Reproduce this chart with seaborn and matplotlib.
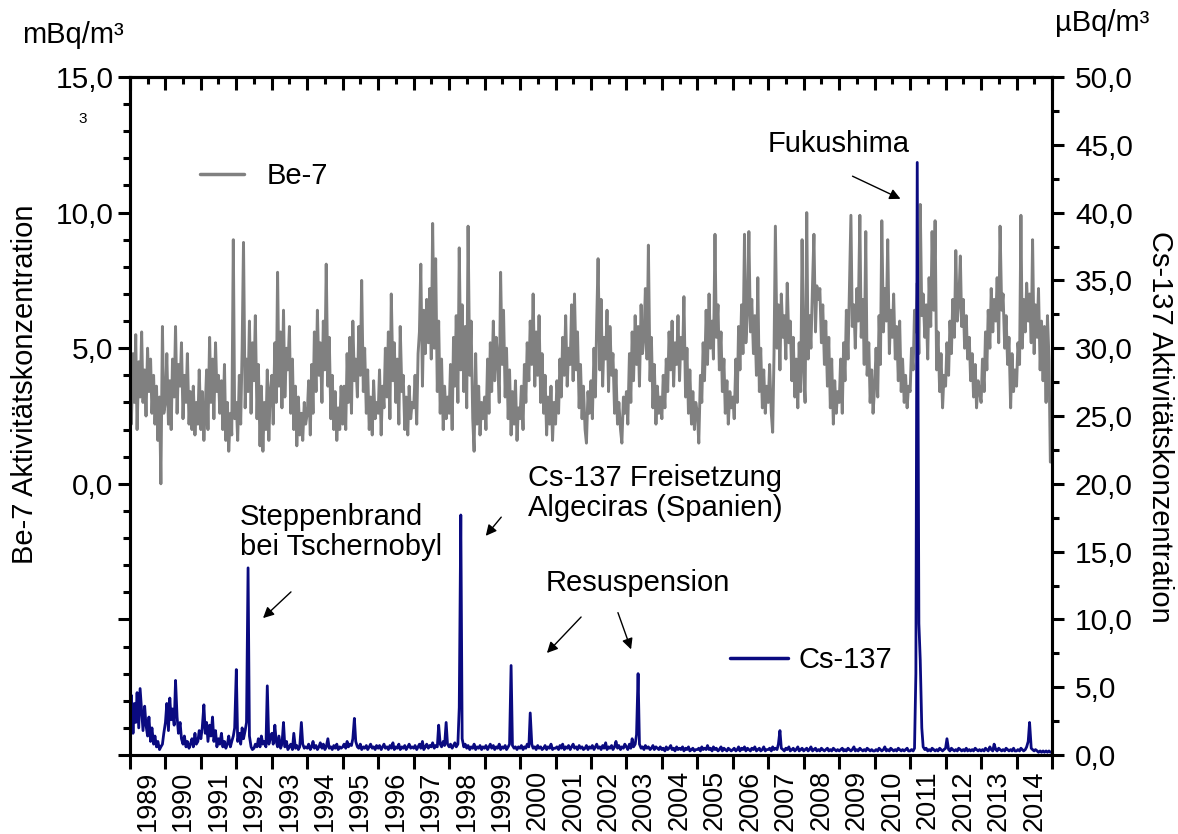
import numpy as np
import pandas as pd
import seaborn as sns
import matplotlib.pyplot as plt
import matplotlib.dates as mdates
from matplotlib.ticker import MultipleLocator, FuncFormatter
from matplotlib.lines import Line2D

# Be-7 in mBq/m3, two samples per month
be7_1989 = [6.5, 2.2, 4.8, 3.0, 5.5, 2.0, 4.5, 3.2, 5.6, 3.0, 4.2, 2.5, 5.0, 3.4, 4.6, 2.6, 4.0, 2.2, 3.6, 1.6, 3.2, 0.0, 5.8, 2.6]
be7_1990 = [3.0, 4.8, 2.2, 3.8, 2.0, 4.6, 3.2, 5.8, 2.6, 4.4, 3.6, 5.2, 2.4, 4.0, 3.0, 4.8, 2.2, 3.4, 2.0, 3.6, 1.8, 3.0, 2.2, 4.2]
be7_1991 = [2.0, 3.4, 1.6, 2.8, 4.2, 2.0, 5.4, 3.0, 4.6, 2.4, 5.2, 3.4, 4.0, 2.6, 3.8, 2.0, 4.4, 1.6, 3.0, 1.2, 2.6, 1.8, 9.0, 2.4]
be7_1992 = [3.0, 1.6, 4.0, 2.2, 5.0, 8.9, 2.8, 4.6, 3.4, 6.0, 2.6, 5.2, 3.8, 6.2, 2.4, 4.4, 1.4, 3.6, 1.2, 3.0, 2.0, 4.2, 1.6, 3.4]
be7_1993 = [4.0, 2.2, 5.2, 3.0, 7.8, 3.6, 5.6, 2.8, 6.4, 3.2, 5.0, 4.2, 5.8, 2.6, 4.6, 2.0, 3.6, 1.4, 3.2, 1.8, 2.6, 1.6, 3.0, 2.2]
be7_1994 = [2.6, 3.8, 1.8, 4.4, 2.6, 5.6, 3.4, 6.4, 4.0, 5.2, 3.0, 6.0, 4.2, 8.1, 3.6, 5.4, 2.4, 4.0, 2.0, 3.4, 1.6, 2.8, 2.0, 3.6]
be7_1995 = [2.2, 3.6, 2.0, 4.8, 3.0, 5.4, 2.6, 6.0, 3.8, 4.6, 3.2, 5.8, 4.0, 7.5, 3.4, 5.0, 2.6, 4.2, 2.0, 3.2, 1.8, 3.8, 2.4, 3.0]
be7_1996 = [2.6, 4.2, 1.8, 3.6, 2.8, 5.0, 3.2, 5.6, 2.4, 7.0, 3.8, 5.2, 3.0, 4.6, 2.2, 5.8, 3.4, 4.0, 2.0, 3.2, 1.8, 3.6, 2.4, 3.0]
be7_1997 = [2.8, 4.0, 2.2, 4.8, 5.6, 8.1, 3.6, 6.4, 4.8, 6.8, 5.2, 7.2, 4.6, 9.6, 5.0, 8.3, 3.4, 6.0, 2.6, 4.6, 2.0, 3.6, 2.4, 3.2]
be7_1998 = [2.6, 4.4, 2.0, 5.4, 3.6, 6.2, 3.0, 8.7, 4.2, 6.6, 3.4, 5.8, 2.8, 9.5, 4.0, 6.0, 2.4, 1.2, 4.8, 2.2, 3.6, 1.8, 3.0, 2.4]
be7_1999 = [3.2, 2.0, 4.6, 2.6, 5.2, 3.4, 6.0, 3.8, 5.4, 4.6, 3.0, 7.8, 4.4, 6.4, 3.2, 5.0, 2.4, 4.2, 1.8, 3.4, 2.2, 3.8, 1.6, 2.8]
be7_2000 = [2.4, 3.6, 2.0, 4.4, 3.0, 5.2, 3.8, 6.0, 4.4, 7.0, 3.6, 5.6, 4.0, 6.2, 3.0, 4.8, 2.6, 4.0, 1.8, 3.2, 2.2, 3.6, 1.6, 3.0]
be7_2001 = [2.2, 3.8, 2.6, 4.6, 3.2, 5.4, 4.0, 6.2, 3.6, 5.0, 4.4, 6.6, 3.8, 7.0, 4.2, 5.6, 2.8, 4.4, 2.4, 3.6, 2.0, 1.5, 3.4, 2.6]
be7_2002 = [3.8, 2.4, 5.0, 3.2, 6.0, 8.3, 4.2, 6.8, 3.6, 5.4, 4.6, 6.4, 3.4, 5.8, 4.0, 4.8, 2.6, 4.2, 2.2, 3.0, 2.0, 1.5, 3.2, 2.6]
be7_2003 = [3.4, 2.2, 4.8, 3.0, 5.6, 3.8, 6.2, 4.4, 5.8, 3.6, 6.6, 4.8, 5.4, 7.2, 4.6, 8.8, 3.8, 5.4, 2.8, 4.4, 2.2, 3.6, 2.6, 3.2]
be7_2004 = [2.4, 4.0, 2.8, 4.6, 3.4, 5.6, 4.2, 6.0, 3.6, 5.2, 4.4, 6.2, 3.8, 5.4, 4.6, 6.9, 3.2, 5.0, 2.6, 4.2, 2.2, 3.4, 2.0, 3.0]
be7_2005 = [2.6, 1.5, 4.0, 3.0, 5.2, 3.8, 6.4, 4.4, 7.0, 5.0, 6.0, 4.6, 9.2, 5.4, 6.6, 4.2, 5.6, 3.4, 4.6, 2.6, 3.8, 2.2, 3.4, 2.8]
be7_2006 = [3.2, 2.4, 4.6, 3.0, 5.8, 4.2, 6.6, 4.8, 9.2, 5.2, 6.4, 9.3, 5.6, 6.8, 4.8, 6.2, 4.0, 7.6, 3.4, 5.0, 2.8, 4.2, 2.6, 3.6]
be7_2007 = [3.0, 4.4, 2.6, 1.9, 4.8, 9.5, 5.0, 6.6, 4.2, 7.0, 5.4, 6.2, 4.6, 7.4, 5.2, 6.0, 3.8, 5.4, 3.2, 4.6, 2.8, 5.2, 3.4, 9.0]
be7_2008 = [4.2, 3.0, 10.0, 4.6, 6.2, 5.0, 7.4, 9.2, 5.6, 7.3, 6.8, 7.2, 5.2, 6.6, 4.4, 6.0, 3.6, 5.4, 2.8, 4.6, 2.2, 3.8, 2.6, 3.4]
be7_2009 = [3.0, 4.6, 2.6, 5.2, 3.8, 6.4, 4.6, 7.0, 9.9, 5.8, 6.6, 5.0, 7.2, 6.0, 9.9, 5.4, 6.8, 4.4, 9.3, 4.0, 5.2, 3.0, 4.2, 2.6]
be7_2010 = [3.6, 5.0, 3.2, 6.2, 4.4, 9.7, 5.6, 7.2, 6.0, 9.0, 4.8, 6.4, 5.4, 7.0, 4.6, 5.8, 3.8, 6.0, 3.4, 4.6, 3.0, 4.0, 2.8, 3.6]
be7_2011 = [3.4, 5.0, 4.2, 6.4, 5.6, 7.4, 4.8, 10.3, 6.2, 7.0, 5.4, 6.6, 4.6, 7.6, 5.8, 9.3, 6.4, 9.7, 4.2, 5.6, 3.4, 4.8, 2.8, 4.0]
be7_2012 = [3.6, 5.2, 4.0, 6.0, 4.8, 6.8, 5.4, 8.6, 6.0, 6.6, 8.4, 5.8, 6.8, 5.0, 6.2, 4.6, 5.4, 3.8, 4.8, 3.2, 4.4, 2.8, 3.8, 3.4]
be7_2013 = [3.0, 4.6, 3.4, 5.6, 4.2, 6.4, 5.0, 7.2, 5.6, 6.8, 6.0, 7.6, 5.2, 9.5, 6.4, 7.0, 5.0, 6.2, 4.4, 5.4, 2.8, 4.8, 3.4, 4.2]
be7_2014 = [3.6, 5.2, 4.4, 9.9, 5.0, 6.8, 5.6, 7.4, 6.0, 7.0, 5.2, 9.0, 4.8, 6.6, 5.4, 7.2, 4.2, 6.0, 3.8, 5.8, 3.0, 6.2, 4.6, 0.8]

# Cs-137 in uBq/m3, same sampling
cs_1989 = [2.8, 4.4, 1.6, 3.8, 2.4, 4.6, 2.0, 4.9, 3.2, 1.8, 3.6, 2.2, 1.4, 2.8, 1.0, 2.0, 0.8, 1.4, 0.6, 1.0, 0.4, 0.6, 0.8, 1.6]
cs_1990 = [2.4, 3.8, 1.8, 4.2, 2.6, 3.4, 2.2, 5.5, 2.8, 1.6, 2.4, 1.2, 0.8, 1.4, 0.6, 1.0, 0.5, 0.8, 1.2, 0.6, 1.6, 0.8, 1.0, 1.8]
cs_1991 = [1.2, 2.0, 3.7, 1.6, 2.4, 1.0, 2.2, 1.4, 2.8, 1.0, 1.8, 0.6, 1.2, 0.8, 1.6, 0.6, 1.0, 0.5, 0.8, 1.4, 0.6, 1.0, 1.4, 2.0]
cs_1992 = [6.3, 1.0, 1.6, 0.8, 2.0, 1.2, 1.8, 2.4, 13.8, 1.4, 0.6, 0.4, 0.5, 0.8, 0.6, 1.2, 0.6, 1.4, 0.8, 1.0, 0.6, 5.1, 0.8, 1.2]
cs_1993 = [1.6, 0.8, 2.2, 1.0, 0.6, 1.4, 0.5, 0.8, 2.4, 0.6, 1.0, 0.4, 0.6, 0.8, 0.4, 1.6, 0.5, 0.7, 0.4, 0.6, 2.4, 0.8, 0.5, 0.6]
cs_1994 = [0.5, 0.8, 0.4, 0.6, 1.0, 0.5, 0.7, 0.4, 0.6, 0.9, 0.5, 0.8, 0.4, 0.6, 1.2, 0.5, 0.6, 0.4, 0.7, 0.5, 0.8, 0.4, 0.6, 0.5]
cs_1995 = [0.6, 0.8, 0.5, 1.0, 0.6, 0.8, 0.7, 1.2, 2.7, 1.0, 0.6, 0.5, 0.8, 0.4, 0.6, 0.5, 0.7, 0.4, 0.6, 0.8, 0.5, 0.6, 0.4, 0.7]
cs_1996 = [0.5, 0.7, 0.4, 0.6, 0.8, 0.5, 0.6, 0.4, 0.7, 0.5, 0.9, 0.4, 0.6, 0.5, 0.8, 0.4, 0.6, 0.5, 0.7, 0.4, 0.6, 0.8, 0.5, 0.6]
cs_1997 = [0.5, 0.7, 0.4, 0.6, 0.8, 0.5, 1.0, 0.4, 0.6, 0.8, 0.5, 0.7, 0.6, 0.9, 0.5, 0.7, 0.6, 2.2, 0.8, 0.6, 1.0, 0.7, 2.4, 0.8]
cs_1998 = [0.6, 0.8, 0.5, 0.7, 0.9, 0.6, 0.8, 3.5, 17.7, 1.2, 0.6, 0.8, 0.5, 0.7, 0.4, 0.6, 0.5, 0.8, 0.4, 0.6, 0.5, 0.7, 0.4, 0.6]
cs_1999 = [0.5, 0.7, 0.4, 0.6, 0.8, 0.5, 0.7, 0.4, 0.6, 0.5, 0.8, 0.4, 0.6, 0.5, 0.7, 0.4, 0.6, 0.8, 6.6, 0.7, 0.5, 0.6, 0.4, 0.6]
cs_2000 = [0.5, 0.7, 0.4, 0.6, 0.5, 0.8, 0.6, 3.1, 0.8, 0.5, 0.6, 0.4, 0.7, 0.5, 0.6, 0.4, 0.5, 0.7, 0.4, 0.6, 0.5, 0.8, 0.4, 0.5]
cs_2001 = [0.5, 0.6, 0.4, 0.7, 0.5, 0.8, 0.4, 0.6, 0.5, 0.7, 0.4, 0.6, 0.8, 0.5, 0.6, 0.4, 0.7, 0.5, 0.6, 0.4, 0.5, 0.7, 0.4, 0.6]
cs_2002 = [0.5, 0.7, 0.4, 0.6, 0.8, 0.5, 0.6, 0.4, 0.7, 0.5, 0.9, 0.4, 0.6, 0.5, 0.7, 0.4, 0.6, 1.0, 0.5, 0.7, 0.4, 0.6, 0.5, 0.8]
cs_2003 = [0.6, 0.4, 0.8, 0.5, 1.2, 0.6, 0.8, 1.5, 6.0, 0.8, 0.5, 0.6, 0.4, 0.7, 0.5, 0.6, 0.4, 0.5, 0.7, 0.4, 0.6, 0.5, 0.4, 0.6]
cs_2004 = [0.4, 0.5, 0.3, 0.6, 0.4, 0.5, 0.7, 0.4, 0.5, 0.3, 0.6, 0.4, 0.5, 0.4, 0.6, 0.3, 0.5, 0.4, 0.6, 0.3, 0.4, 0.5, 0.3, 0.4]
cs_2005 = [0.4, 0.5, 0.3, 0.6, 0.4, 0.5, 0.4, 0.7, 0.4, 0.5, 0.3, 0.6, 0.4, 0.5, 0.3, 0.4, 0.6, 0.3, 0.5, 0.4, 0.3, 0.5, 0.4, 0.3]
cs_2006 = [0.4, 0.5, 0.3, 0.4, 0.6, 0.3, 0.5, 0.4, 0.6, 0.3, 0.5, 0.4, 0.3, 0.5, 0.4, 0.6, 0.3, 0.4, 0.5, 0.3, 0.4, 0.6, 0.3, 0.4]
cs_2007 = [0.4, 0.5, 0.3, 0.6, 0.4, 0.5, 0.4, 0.8, 1.8, 0.5, 0.4, 0.3, 0.5, 0.4, 0.6, 0.3, 0.4, 0.5, 0.3, 0.4, 0.6, 0.3, 0.4, 0.5]
cs_2008 = [0.3, 0.4, 0.5, 0.3, 0.4, 0.6, 0.3, 0.4, 0.5, 0.3, 0.4, 0.3, 0.5, 0.4, 0.3, 0.4, 0.5, 0.3, 0.4, 0.3, 0.5, 0.4, 0.3, 0.4]
cs_2009 = [0.3, 0.4, 0.5, 0.3, 0.4, 0.3, 0.5, 0.4, 0.3, 0.4, 0.6, 0.3, 0.4, 0.3, 0.5, 0.4, 0.3, 0.4, 0.3, 0.5, 0.4, 0.3, 0.4, 0.3]
cs_2010 = [0.3, 0.4, 0.3, 0.5, 0.4, 0.3, 0.4, 0.6, 0.3, 0.4, 0.3, 0.5, 0.4, 0.3, 0.4, 0.3, 0.5, 0.4, 0.3, 0.4, 0.3, 0.4, 0.5, 0.3]
cs_2011 = [0.3, 0.4, 0.3, 0.5, 6.0, 43.7, 9.7, 7.0, 2.0, 0.6, 0.4, 0.5, 0.3, 0.4, 0.3, 0.5, 0.4, 0.3, 0.4, 0.3, 0.5, 0.4, 0.3, 0.4]
cs_2012 = [0.5, 1.2, 0.4, 0.3, 0.5, 0.4, 0.3, 0.4, 0.3, 0.5, 0.4, 0.3, 0.4, 0.3, 0.5, 0.3, 0.4, 0.3, 0.4, 0.3, 0.5, 0.4, 0.3, 0.4]
cs_2013 = [0.3, 0.4, 0.3, 0.5, 0.4, 0.3, 0.6, 0.4, 0.3, 0.8, 0.4, 0.3, 0.5, 0.4, 0.3, 0.4, 0.3, 0.5, 0.4, 0.3, 0.4, 0.3, 0.5, 0.3]
cs_2014 = [0.3, 0.4, 0.3, 0.5, 0.4, 0.3, 0.4, 0.6, 1.0, 2.4, 0.5, 0.4, 0.3, 0.4, 0.3, 0.2, 0.3, 0.2, 0.3, 0.2, 0.3, 0.2, 0.3, 0.2]

be7 = (be7_1989 + be7_1990 + be7_1991 + be7_1992 + be7_1993 + be7_1994 + be7_1995
       + be7_1996 + be7_1997 + be7_1998 + be7_1999 + be7_2000 + be7_2001 + be7_2002
       + be7_2003 + be7_2004 + be7_2005 + be7_2006 + be7_2007 + be7_2008 + be7_2009
       + be7_2010 + be7_2011 + be7_2012 + be7_2013 + be7_2014)
cs137 = (cs_1989 + cs_1990 + cs_1991 + cs_1992 + cs_1993 + cs_1994 + cs_1995
         + cs_1996 + cs_1997 + cs_1998 + cs_1999 + cs_2000 + cs_2001 + cs_2002
         + cs_2003 + cs_2004 + cs_2005 + cs_2006 + cs_2007 + cs_2008 + cs_2009
         + cs_2010 + cs_2011 + cs_2012 + cs_2013 + cs_2014)

df = pd.DataFrame({'datum': pd.date_range('1989-01-01', periods=len(be7), freq='SMS'),
                   'be7': be7, 'cs137': cs137})

sns.set_style('ticks')
plt.rcParams['font.family'] = ['Liberation Sans', 'DejaVu Sans']
plt.rcParams['text.color'] = 'black'
plt.rcParams['xtick.color'] = 'black'
plt.rcParams['ytick.color'] = 'black'
plt.rcParams['axes.labelcolor'] = 'black'

W, H = 1178, 834
L, R, T, B = 130, 1052, 77, 755
fig = plt.figure(figsize=(W / 100, H / 100), dpi=100)
ax1 = fig.add_axes([L / W, 1 - B / H, (R - L) / W, (B - T) / H])
ax2 = ax1.twinx()

# pixel of reference -> axes fraction
def fx(px):
    return (px - L) / (R - L)

def fy(py):
    return (B - py) / (B - T)

sns.lineplot(data=df, x='datum', y='be7', ax=ax1, color='#808080', linewidth=2.1, legend=False)
sns.lineplot(data=df, x='datum', y='cs137', ax=ax2, color='#0a0a80', linewidth=2.0, legend=False)

def komma(v, pos):
    if v < -0.01:
        return ''
    return f'{v:.1f}'.replace('.', ',')

ax1.set_xlim(pd.Timestamp('1989-01-01'), pd.Timestamp('2015-01-01'))
ax1.set_ylim(-10, 15)
ax2.set_ylim(0, 50)
ax1.yaxis.set_major_locator(MultipleLocator(5))
ax1.yaxis.set_minor_locator(MultipleLocator(1))
ax1.yaxis.set_major_formatter(FuncFormatter(komma))
ax2.yaxis.set_major_locator(MultipleLocator(5))
ax2.yaxis.set_minor_locator(MultipleLocator(2.5))
ax2.yaxis.set_major_formatter(FuncFormatter(komma))

# year ticks at boundaries, labels centred mid-year
ax1.xaxis.set_major_locator(mdates.YearLocator())
ax1.xaxis.set_major_formatter(plt.NullFormatter())
ax1.xaxis.set_minor_locator(mdates.MonthLocator(bymonth=7))
ax1.xaxis.set_minor_formatter(mdates.DateFormatter('%Y'))
ax1.tick_params(axis='x', which='major', direction='out', length=10, width=2.2)
ax1.tick_params(axis='x', which='minor', length=0, pad=11, labelsize=19.5, labelrotation=90)
ax1.tick_params(axis='y', which='major', direction='out', length=9, width=2.2, labelsize=21.5, pad=3)
ax1.tick_params(axis='y', which='minor', direction='out', length=5, width=2.2)
ax2.tick_params(axis='y', which='major', direction='out', length=8.5, width=2.2, labelsize=21.5, pad=8)
ax2.tick_params(axis='y', which='minor', direction='out', length=5, width=2.2)
ax1.set_xlabel('')
ax1.set_ylabel('')
ax2.set_ylabel('')

top = ax1.secondary_xaxis('top')
top.xaxis.set_major_locator(mdates.YearLocator())
top.xaxis.set_minor_locator(mdates.MonthLocator(bymonth=7))
top.xaxis.set_major_formatter(plt.NullFormatter())
top.xaxis.set_minor_formatter(plt.NullFormatter())
top.tick_params(which='major', direction='in', length=9, width=2.2)
top.tick_params(which='minor', direction='in', length=5, width=2.2)
top.spines['top'].set_linewidth(2.2)

for ax in (ax1, ax2):
    for s in ax.spines.values():
        s.set_linewidth(2.2)
        s.set_color('black')

# axis titles and units
fig.text(25 / W, 1 - 384 / H, 'Be-7 Aktivitätskonzentration', rotation=90,
         ha='center', va='center', fontsize=21)
fig.text(1160 / W, 1 - 427 / H, 'Cs-137 Aktivitätskonzentration', rotation=270,
         ha='center', va='center', fontsize=21)
fig.text(22 / W, 1 - 35 / H, 'mBq/m³', ha='left', va='center', fontsize=21)
fig.text(1055 / W, 1 - 23 / H, 'µBq/m³', ha='left', va='center', fontsize=21)
fig.text(83 / W, 1 - 119 / H, '3', ha='center', va='center', fontsize=11)

# legends
ax1.legend(handles=[Line2D([], [], color='#808080', lw=2.5)], labels=['Be-7'],
           loc='center left', bbox_to_anchor=(fx(200), fy(176)), frameon=False,
           handlelength=1.5, handletextpad=0.8, borderpad=0, borderaxespad=0, fontsize=21)
ax2.legend(handles=[Line2D([], [], color='#0a0a80', lw=2.5)], labels=['Cs-137'],
           loc='center left', bbox_to_anchor=(fx(730), fy(660)), frameon=False,
           handlelength=2.0, handletextpad=0.35, borderpad=0, borderaxespad=0, fontsize=21)

# annotations
arrow = dict(arrowstyle='-|>', color='black', lw=1.0, mutation_scale=16)
ax2.text(fx(768), fy(130), 'Fukushima', transform=ax2.transAxes, ha='left', va='top', fontsize=21)
ax2.annotate('', xy=(fx(903), fy(200)), xytext=(fx(850), fy(175)),
             xycoords='axes fraction', textcoords='axes fraction', arrowprops=arrow)
ax2.text(fx(240), fy(503), 'Steppenbrand\nbei Tschernobyl', transform=ax2.transAxes,
         ha='left', va='top', fontsize=21, linespacing=1.1)
ax2.annotate('', xy=(fx(261), fy(620)), xytext=(fx(293), fy(590)),
             xycoords='axes fraction', textcoords='axes fraction', arrowprops=arrow)
ax2.text(fx(528), fy(464), 'Cs-137 Freisetzung\nAlgeciras (Spanien)', transform=ax2.transAxes,
         ha='left', va='top', fontsize=21, linespacing=1.1)
ax2.annotate('', xy=(fx(484), fy(538)), xytext=(fx(503), fy(515)),
             xycoords='axes fraction', textcoords='axes fraction', arrowprops=arrow)
ax2.text(fx(546), fy(569), 'Resuspension', transform=ax2.transAxes,
         ha='left', va='top', fontsize=21)
ax2.annotate('', xy=(fx(545), fy(655)), xytext=(fx(583), fy(615)),
             xycoords='axes fraction', textcoords='axes fraction', arrowprops=arrow)
ax2.annotate('', xy=(fx(632), fy(652)), xytext=(fx(617), fy(610)),
             xycoords='axes fraction', textcoords='axes fraction', arrowprops=arrow)

fig.savefig('out.png', dpi=100)
